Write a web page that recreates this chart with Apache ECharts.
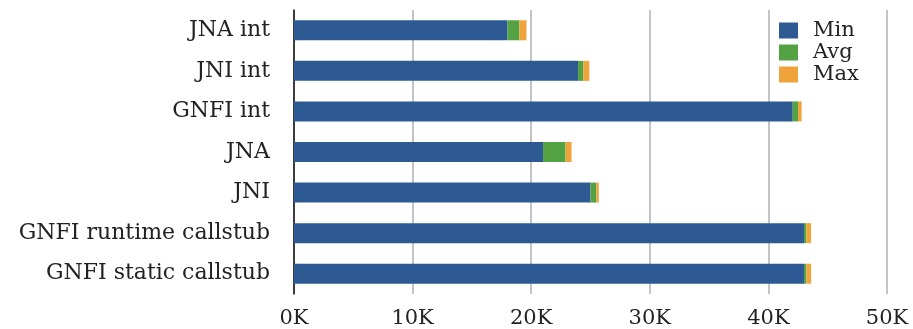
<!DOCTYPE html>
<html>
<head>
<meta charset="utf-8">
<script src="https://cdn.jsdelivr.net/npm/echarts@6/dist/echarts.min.js"></script>
<style>
  html, body { margin: 0; padding: 0; background: #fff; }
  #chart { width: 913px; height: 329px; }
</style>
</head>
<body>
<div id="chart"></div>
<script>
// categories, top to bottom
var categories = ['JNA int', 'JNI int', 'GNFI int', 'JNA', 'JNI', 'GNFI runtime callstub', 'GNFI static callstub'];
// stacked segments (in K)
var minVals = [18.0, 23.95, 42.05, 21.0, 25.0, 43.0, 43.0];
var avgVals = [1.0, 0.45, 0.45, 1.9, 0.5, 0.2, 0.2];
var maxVals = [0.6, 0.5, 0.3, 0.5, 0.2, 0.4, 0.4];
var xTicks = [0, 10, 20, 30, 40, 50];

var FONT = 'DejaVu Serif';

var chart = echarts.init(document.getElementById('chart'));

function seg(name, data, color) {
  return {
    name: name,
    type: 'bar',
    stack: 'total',
    data: data,
    barWidth: 20,
    itemStyle: { color: color },
    emphasis: { disabled: true }
  };
}

chart.setOption({
  animation: false,
  textStyle: { fontFamily: FONT },
  grid: { left: 294, right: 26, top: 10, bottom: 34, containLabel: false },
  legend: {
    orient: 'vertical',
    left: 774,
    top: 15,
    itemWidth: 19,
    itemHeight: 16,
    itemGap: 1,
    icon: 'rect',
    textStyle: { fontFamily: FONT, fontSize: 21, lineHeight: 18, color: '#222', padding: [0, 0, 0, 10] },
    data: ['Min', 'Avg', 'Max']
  },
  xAxis: {
    type: 'value',
    min: xTicks[0],
    max: xTicks[xTicks.length - 1],
    interval: 10,
    axisLine: { show: false },
    axisTick: { show: false },
    splitLine: { show: true, lineStyle: { color: '#c4c4c4', width: 2 } },
    axisLabel: {
      margin: 14,
      fontFamily: FONT,
      fontSize: 21,
      color: '#222',
      formatter: function (v) { return v + 'K'; }
    }
  },
  yAxis: {
    type: 'category',
    inverse: true,
    data: categories,
    axisLine: { show: true, lineStyle: { color: '#111', width: 1.5 } },
    axisTick: { show: false },
    axisLabel: {
      margin: 24,
      fontFamily: FONT,
      fontSize: 22,
      color: '#222'
    }
  },
  series: [
    seg('Min', minVals, '#2d5a93'),
    seg('Avg', avgVals, '#54a244'),
    seg('Max', maxVals, '#eea43a')
  ]
});
</script>
</body>
</html>
